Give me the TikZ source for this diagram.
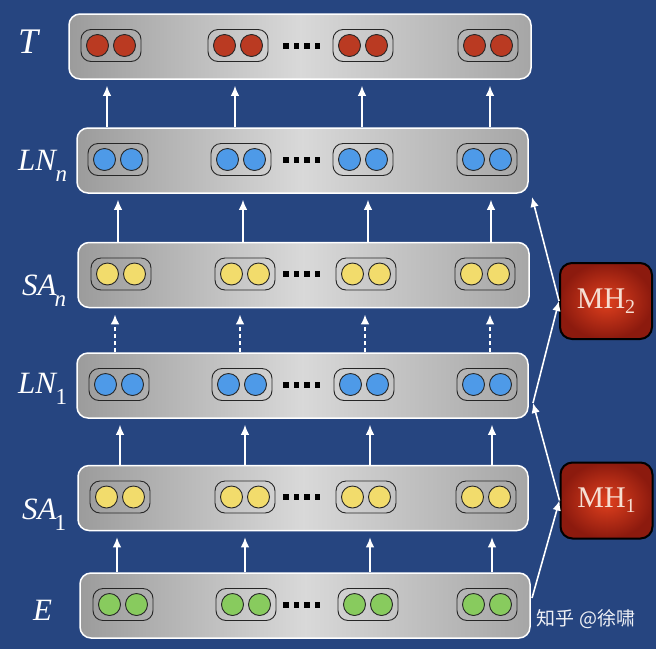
\documentclass[tikz,border=0pt]{standalone}
\usepackage{fontspec}
\setmainfont{Liberation Serif}
\newfontfamily\cjk{Noto Sans CJK SC}
\usepackage{xcolor}
\usepackage{tikz}
\usetikzlibrary{arrows.meta}
\definecolor{bgblue}{RGB}{38,69,128}
\definecolor{redu}{RGB}{186,58,34}
\definecolor{blueu}{RGB}{78,154,232}
\definecolor{yellowu}{RGB}{242,220,108}
\definecolor{greenu}{RGB}{136,203,94}
\definecolor{mhin}{RGB}{224,64,30}
\definecolor{mhout}{RGB}{140,26,14}
\definecolor{mhtext}{RGB}{246,222,210}
\newcommand{\lblsub}[2]{\textit{#1}\kern-2pt\raisebox{-11pt}{\fontsize{23}{23}\selectfont #2}}
\newcommand{\mhsub}[1]{MH\raisebox{-5pt}{\fontsize{20}{20}\selectfont #1}}

\begin{document}
\begin{tikzpicture}[x=1pt,y=-1pt,>={Latex[length=10pt,width=8.5pt]}]
\tikzstyle{layer}=[rectangle,draw=white,line width=1.5pt,rounded corners=11pt,minimum height=65pt,left color=gray!78,right color=gray!70,middle color=gray!30]
\tikzstyle{pill}=[rectangle,draw=black!85,line width=0.9pt,rounded corners=10pt,minimum width=60pt,minimum height=32pt]
\tikzstyle{unit}=[circle,draw=black!85,line width=0.9pt,minimum size=22pt,inner sep=0pt]
\tikzstyle{head}=[rectangle,draw=black,line width=2pt,rounded corners=12pt,minimum width=92pt,minimum height=76pt,inner color=mhin,outer color=mhout,text=mhtext,font=\fontsize{30}{30}\selectfont]
\tikzstyle{lbl}=[text=white,anchor=base west,inner sep=0pt,font=\fontsize{31}{31}\selectfont]
\tikzstyle{link}=[draw=white,line width=1.6pt]
\tikzstyle{dashup}=[dash pattern=on 4pt off 3pt,line width=2.2pt]

\fill[bgblue] (0,0) rectangle (656,649);

% layers, each with four unit pairs and the dots
\foreach \nm/\cx/\cy/\w/\col/\plist in {T/300/46.5/462/redu/{111,238,363,488},
    LNn/302.5/160.5/451/blueu/{118,241,363,487},
    SAn/303.5/275/451/yellowu/{121,245,366,485},
    LN1/302.5/385.5/451/blueu/{119,242,364,487},
    SA1/303/498/450/yellowu/{120,245,366,486},
    E/305/605.5/450/greenu/{123,246,368,487}}
{
  \node[layer,minimum width=\w pt] (\nm) at (\cx,\cy) {};
  \foreach \px [count=\i] in \plist {
    \node[pill] (\nm-p\i) at (\px,\cy-1) {};
    \node[unit,fill=\col] at ([xshift=-13.5pt]\nm-p\i.center) {};
    \node[unit,fill=\col] at ([xshift=13.5pt]\nm-p\i.center) {};
  }
  \foreach \dx in {0,10.5,21,31.5}
    \fill[black] (283.3+\dx,\cy-4) rectangle +(5.4,6);
}

% row names
\node[lbl,font=\fontsize{36}{36}\selectfont] (tT) at (18,53) {\textit{T}};
\node[lbl] (tLNn) at (18,170) {\lblsub{LN}{\textit{n}}};
\node[lbl] (tSAn) at (22,295) {\lblsub{SA}{\textit{n}}};
\node[lbl] (tLN1) at (18,393) {\lblsub{LN}{1}};
\node[lbl] (tSA1) at (22,519) {\lblsub{SA}{1}};
\node[lbl] (tE) at (33,620) {\textit{E}};

% upward arrows between layers
\foreach \lo/\hi/\xs/\sty in {LNn/T/{107,235,362,490}/solid,
    SAn/LNn/{118,243,368,491}/solid,
    LN1/SAn/{115,240,365,490}/dashup,
    SA1/LN1/{120,245,370,492}/solid,
    E/SA1/{117,245,370,492}/solid}
  \foreach \xx in \xs
    \draw[link,->,\sty,shorten >=6pt] (\lo.north -| \xx,0) -- (\hi.south -| \xx,0);

% multi-head blocks and the side path
\node[head] (MH2) at (606,301) {\mhsub{2}};
\node[head] (MH1) at (606.5,500.5) {\mhsub{1}};
\coordinate (eout) at (532,598);
\coordinate (ln1in) at (533,403);
\coordinate (lnnin) at (532,197);
\draw[link,->] (eout) -- (MH1.west);
\draw[link,->] (MH1.west) -- (ln1in);
\draw[link,->] (ln1in) -- (MH2.west);
\draw[link,->] (MH2.west) -- (lnnin);

\node[text=white!92!bgblue,font={\fontsize{19}{19}\cjk}] (wm) at (586,619) {知乎 @徐啸};
\end{tikzpicture}
\end{document}
